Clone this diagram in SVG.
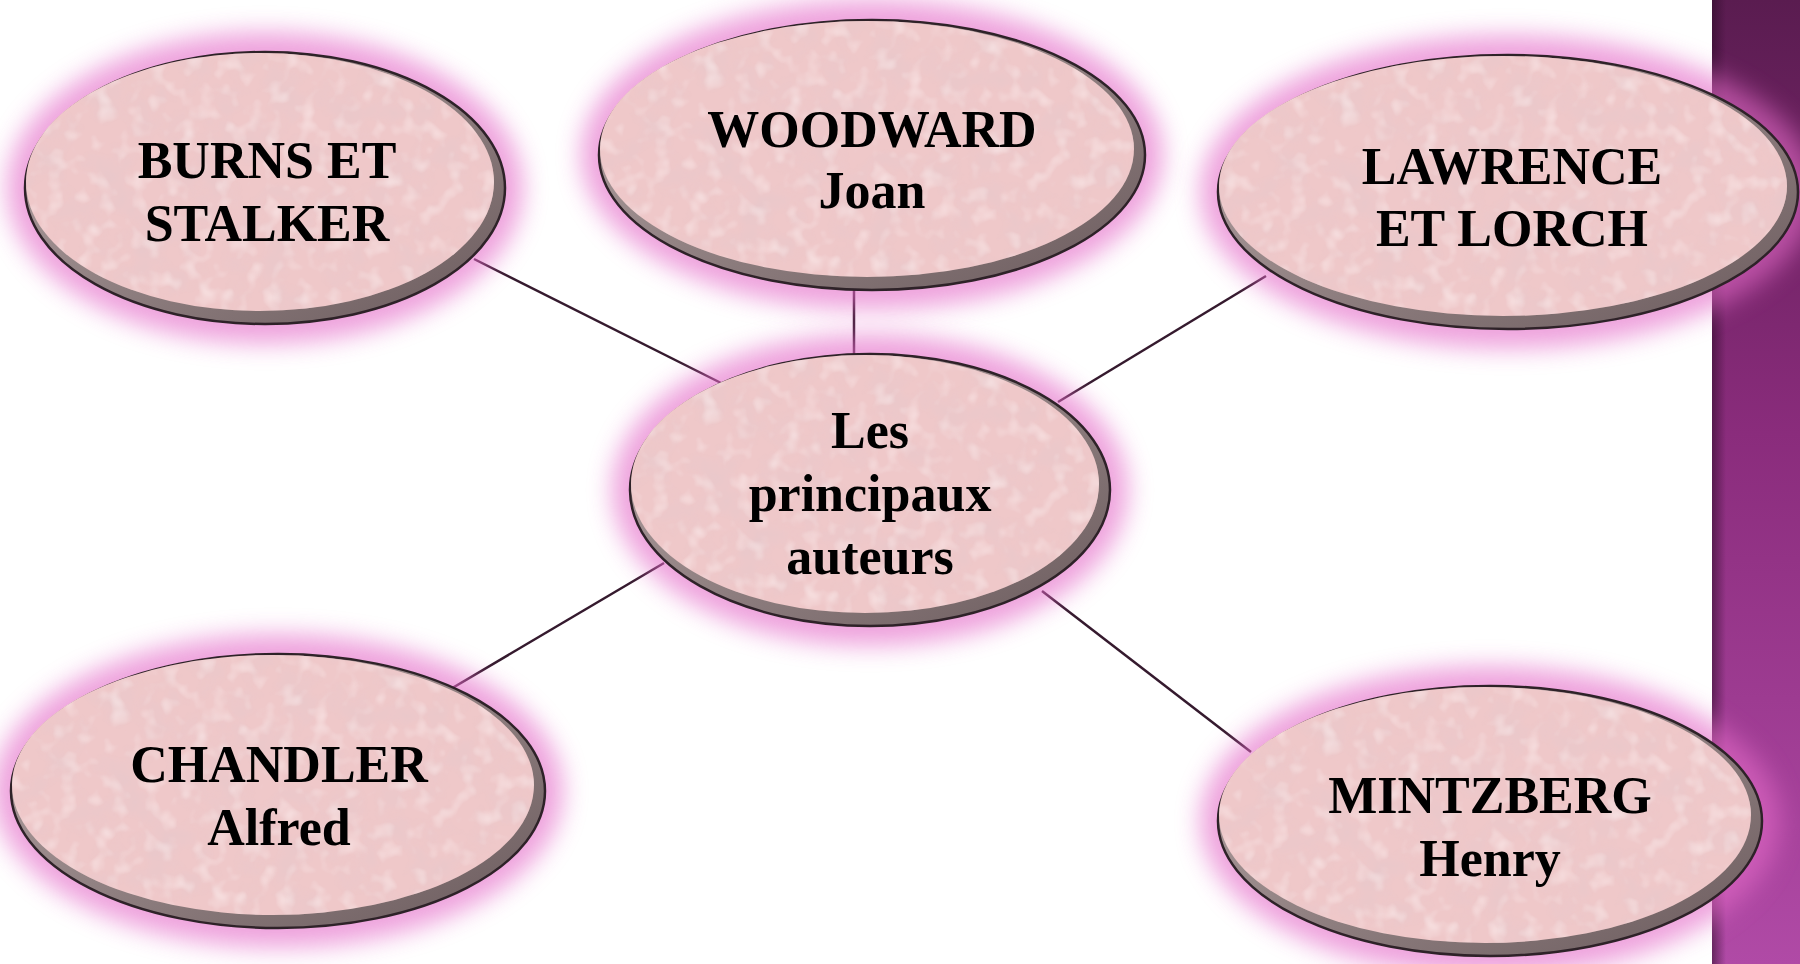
<svg xmlns="http://www.w3.org/2000/svg" width="1800" height="964" viewBox="0 0 1800 964">
  <defs>
    <linearGradient id="band" x1="0" y1="0" x2="0" y2="1">
      <stop offset="0" stop-color="#5a1c50"/>
      <stop offset="0.45" stop-color="#8a2c7c"/>
      <stop offset="1" stop-color="#b04aa6"/>
    </linearGradient>
    <linearGradient id="bandEdge" x1="0" y1="0" x2="1" y2="0">
      <stop offset="0" stop-color="#2a0a26" stop-opacity="0.55"/>
      <stop offset="1" stop-color="#2a0a26" stop-opacity="0"/>
    </linearGradient>
    <linearGradient id="rim" x1="0" y1="0" x2="1" y2="1">
      <stop offset="0" stop-color="#b8a8a8"/>
      <stop offset="1" stop-color="#6a5a5c"/>
    </linearGradient>
    <filter id="glow" x="-20%" y="-30%" width="140%" height="160%">
      <feGaussianBlur stdDeviation="12"/>
    </filter>
    <!-- soft mottled paper texture for the ellipse faces -->
    <filter id="grain" x="0" y="0" width="1" height="1">
      <feTurbulence type="fractalNoise" baseFrequency="0.03" numOctaves="4" seed="7" result="n"/>
      <feGaussianBlur in="n" stdDeviation="1.2" result="nb"/>
      <feColorMatrix in="nb" type="matrix" values="0 0 0 0 0.80  0 0 0 0 0.58  0 0 0 0 0.60  1.8 0 0 0 -0.78" result="spots"/>
      <feComposite in="spots" in2="SourceGraphic" operator="in" result="tex"/>
      <feTurbulence type="fractalNoise" baseFrequency="0.06" numOctaves="2" seed="3" result="n2"/>
      <feGaussianBlur in="n2" stdDeviation="1" result="n2b"/>
      <feColorMatrix in="n2b" type="matrix" values="0 0 0 0 1  0 0 0 0 0.92  0 0 0 0 0.92  1.2 0 0 0 -0.6" result="light"/>
      <feComposite in="light" in2="SourceGraphic" operator="in" result="tex2"/>
      <feMerge>
        <feMergeNode in="SourceGraphic"/>
        <feMergeNode in="tex"/>
        <feMergeNode in="tex2"/>
      </feMerge>
    </filter>
  </defs>
  <style>
    .halo { fill: #e46ac8; opacity: 0.62; filter: url(#glow); }
    .rim { fill: url(#rim); stroke: #2e2228; stroke-width: 2.5; }
    .face { fill: #efc8c9; filter: url(#grain); }
    .label { font-family: "Liberation Serif", "Times New Roman", serif; font-weight: bold; font-size: 52px; fill: #000; text-anchor: middle; }
    .link { stroke: #351a2e; stroke-width: 2.5; fill: none; }
  </style>

  <!-- page -->
  <rect x="0" y="0" width="1800" height="964" fill="#ffffff"/>
  <rect x="1712" y="0" width="88" height="964" fill="url(#band)"/>
  <rect x="1712" y="0" width="14" height="964" fill="url(#bandEdge)"/>

  <!-- connectors -->
  <g id="connectors">
    <line class="link" x1="474" y1="259" x2="729" y2="387"/>
    <line class="link" x1="854" y1="289" x2="854" y2="356"/>
    <line class="link" x1="1266" y1="276" x2="1058" y2="402"/>
    <line class="link" x1="427" y1="703" x2="664" y2="563"/>
    <line class="link" x1="1042" y1="591" x2="1251" y2="752"/>
  </g>

  <!-- author nodes -->
  <g id="burns" transform="translate(265,188)">
    <ellipse class="halo" rx="258" ry="156"/>
    <ellipse class="rim" rx="240" ry="136"/>
    <ellipse class="face" cx="-5" cy="-6" rx="234" ry="129"/>
    <text class="label" x="2" y="-10">BURNS ET</text>
    <text class="label" x="2" y="53">STALKER</text>
  </g>

  <g id="woodward" transform="translate(872,155)">
    <ellipse class="halo" rx="291" ry="155"/>
    <ellipse class="rim" rx="273" ry="135"/>
    <ellipse class="face" cx="-5" cy="-6" rx="267" ry="128"/>
    <text class="label" x="0" y="-8">WOODWARD</text>
    <text class="label" x="0" y="53">Joan</text>
  </g>

  <g id="lawrence" transform="translate(1508,192)">
    <ellipse class="halo" rx="308" ry="157"/>
    <ellipse class="rim" rx="290" ry="137"/>
    <ellipse class="face" cx="-5" cy="-6" rx="284" ry="130"/>
    <text class="label" x="4" y="-8">LAWRENCE</text>
    <text class="label" x="4" y="54">ET LORCH</text>
  </g>

  <g id="centre" transform="translate(870,490)">
    <ellipse class="halo" rx="258" ry="156"/>
    <ellipse class="rim" rx="240" ry="136"/>
    <ellipse class="face" cx="-5" cy="-6" rx="234" ry="129"/>
    <text class="label" x="0" y="-42">Les</text>
    <text class="label" x="0" y="21">principaux</text>
    <text class="label" x="0" y="84">auteurs</text>
  </g>

  <g id="chandler" transform="translate(278,791)">
    <ellipse class="halo" rx="285" ry="157"/>
    <ellipse class="rim" rx="267" ry="137"/>
    <ellipse class="face" cx="-5" cy="-6" rx="261" ry="130"/>
    <text class="label" x="1" y="-9">CHANDLER</text>
    <text class="label" x="1" y="54">Alfred</text>
  </g>

  <g id="mintzberg" transform="translate(1490,821)">
    <ellipse class="halo" rx="290" ry="155"/>
    <ellipse class="rim" rx="272" ry="135"/>
    <ellipse class="face" cx="-5" cy="-6" rx="266" ry="128"/>
    <text class="label" x="0" y="-8">MINTZBERG</text>
    <text class="label" x="0" y="55">Henry</text>
  </g>
</svg>
